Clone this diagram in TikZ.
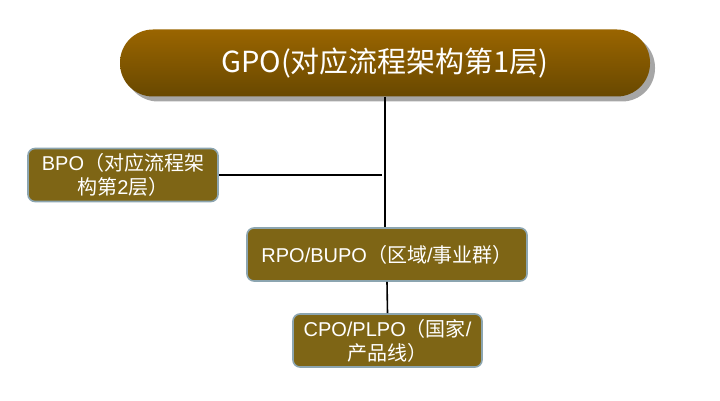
\documentclass[tikz,border=0pt]{standalone}
\usepackage{fontspec}
\setmainfont{Liberation Sans}
\newfontfamily\cjk{Noto Sans CJK SC}
\usepackage{xcolor}
\usepackage{tikz}
\usetikzlibrary{positioning,shadows}

\definecolor{gpotop}{RGB}{154,101,0}
\definecolor{gpobot}{RGB}{104,72,0}
\definecolor{boxfill}{RGB}{126,101,21}
\definecolor{boxedge}{RGB}{140,165,176}

\newcommand{\zh}[1]{{\cjk #1}}

\begin{document}
\begin{tikzpicture}[
    x=1pt, y=-1pt,
    font=\fontsize{20}{24}\selectfont,
    pill/.style={rounded corners=33pt, minimum width=530pt, minimum height=67pt,
      top color=gpotop, bottom color=gpobot, draw=none, text=white,
      font=\cjk\fontsize{29}{34}\selectfont,
      drop shadow={shadow xshift=5pt, shadow yshift=-5pt, fill=gray!70, opacity=1}},
    unit/.style={draw=boxedge, line width=1.6pt, rounded corners=7pt, fill=boxfill,
      text=white, align=center, minimum height=53pt, inner sep=2pt},
    link/.style={line width=1.6pt, draw=black},
  ]
  \useasboundingbox (0,0) rectangle (720,401);

  % ===== top level =====
  \node[pill] (gpo) at (385,63) {GPO(对应流程架构第1层)};

  % ===== lower levels =====
  \node[unit, minimum width=190pt] (bpo) at (123,175)
      {BPO\zh{（对应流程架}\\\zh{构第}2\zh{层）}};
  \node[unit, minimum width=280pt] (rpo) at (387,254.5)
      {RPO/BUPO\zh{（区域}/\zh{事业群）}};
  \node[unit, minimum width=189pt] (cpo) at (387.5,340.5)
      {CPO/PLPO\zh{（国家}/\\\zh{产品线）}};

  % connectors
  \coordinate (trunk) at (bpo.east -| gpo.south);
  \draw[link] (gpo.south) -- (gpo.south |- rpo.north);
  \draw[link] (bpo.east) -- ([xshift=-3pt]trunk);
  \draw[link] (rpo.south) -- (cpo.north);

\end{tikzpicture}
\end{document}
